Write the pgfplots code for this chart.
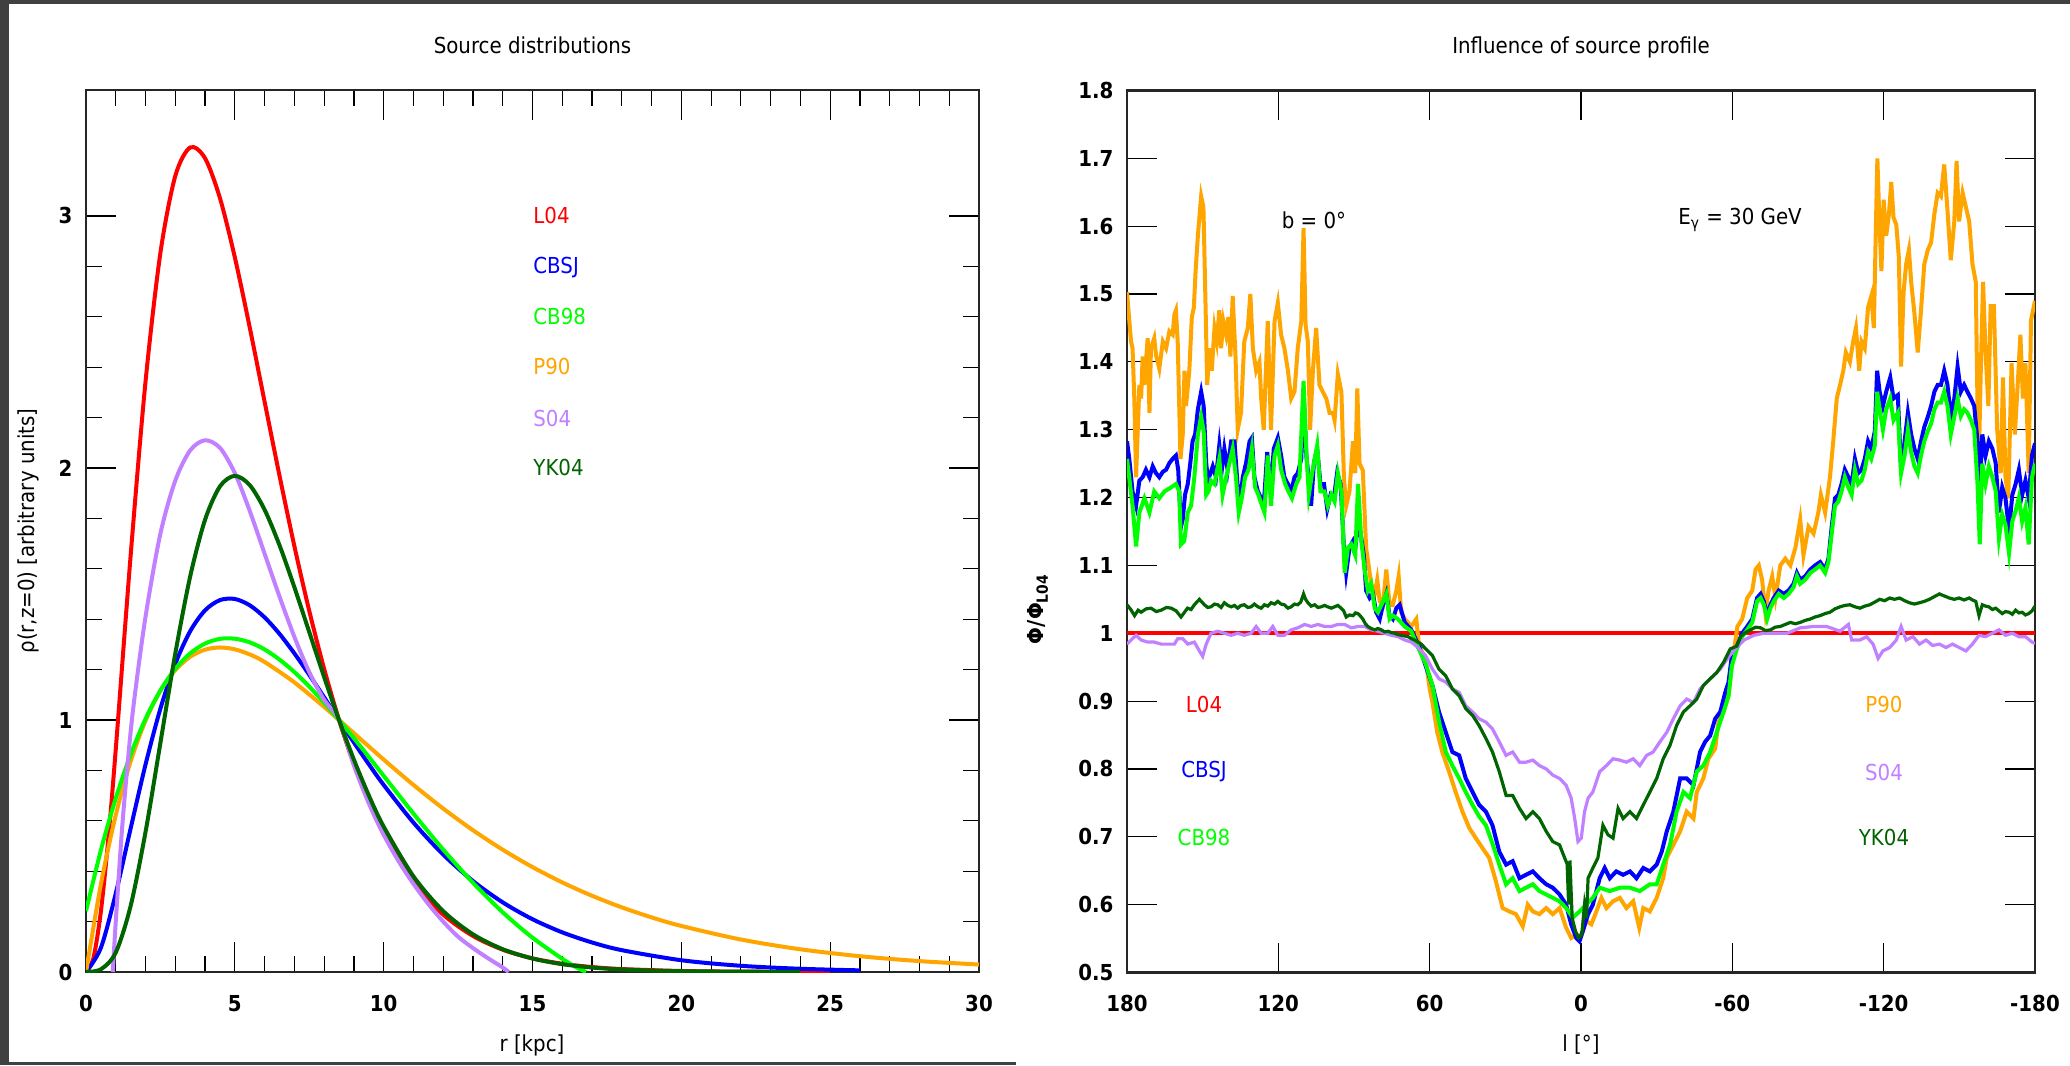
\documentclass[border=0pt]{standalone}
\usepackage{pgfplots}
\pgfplotsset{compat=1.18}
\usepackage{fontspec}
\setmainfont{DejaVu Sans}[FakeStretch=0.9]

\definecolor{cL}{RGB}{255,0,0}
\definecolor{cCBSJ}{RGB}{0,0,255}
\definecolor{cCB}{RGB}{0,255,0}
\definecolor{cP}{RGB}{255,165,0}
\definecolor{cS}{RGB}{192,128,255}
\definecolor{cYK}{RGB}{0,100,0}
\definecolor{frame}{RGB}{64,64,64}

\pgfplotsset{
  panel/.style={
    anchor=south west, scale only axis,
    axis line style={line width=1.1pt, black!85},
    tick style={black, line width=0.6pt},
    major tick length=15pt, minor tick length=8pt,
    xtick pos=both, ytick pos=both,
    tick label style={font=\fontsize{11}{13}\selectfont\bfseries},
    xticklabel style={yshift=-8pt},
    yticklabel style={xshift=-3.3pt},
    clip=true,
  },
}

\begin{document}
\begin{tikzpicture}[font=\fontsize{11}{13}\selectfont]
% window frame
\fill[frame] (0,0) rectangle (1035pt,532.5pt);
\fill[white] (4.5pt,0pt) rectangle (1035pt,530.5pt);
\fill[frame] (0,0) rectangle (508pt,1.5pt);
\useasboundingbox (0,0) rectangle (1035pt,532.5pt);

% ---------------- source distributions ----------------
\begin{axis}[panel, at={(43pt,46.5pt)}, width=446.5pt, height=441pt,
  xmin=0, xmax=30, ymin=0, ymax=3.5,
  xtick={0,5,10,15,20,25,30}, xticklabels={0,5,10,15,20,25,30},
  ytick={0,1,2,3}, yticklabels={0,1,2,3},
  minor x tick num=4, minor y tick num=4]
% L04
\addplot[cL, line width=2pt, smooth] coordinates {
(0,0) (0.25,0.0556) (0.5,0.2405) (0.75,0.5295) (1,0.884) (1.5,1.653) (2,2.343) (2.5,2.854)
(3,3.159) (3.5,3.272) (4,3.229) (4.5,3.071) (5,2.836) (5.5,2.558) (6,2.263) (6.5,1.970)
(7,1.690) (7.5,1.433) (8,1.203) (8.5,1.0) (9,0.8247) (9.5,0.6752) (10,0.5492) (11,0.3572)
(12,0.2278) (13,0.1430) (14,0.0885) (15,0.0541) (16,0.0327) (17,0.0196) (18,0.0117)
(20,0.0040) (22,0.0014) (25,0.0003)};
% CBSJ
\addplot[cCBSJ, line width=2pt, smooth] coordinates {
(0,0) (0.5,0.0959) (1,0.3118) (1.5,0.5700) (2,0.8233) (2.5,1.0452) (3,1.2229) (3.5,1.3524)
(4,1.4352) (4.5,1.4758) (5,1.4803) (5.5,1.4553) (6,1.4072) (6.5,1.3419) (7,1.2644)
(7.5,1.1793) (8,1.0902) (8.5,1.0) (9,0.9109) (9.5,0.8246) (10,0.7424) (11,0.5930)
(12,0.4659) (13,0.3609) (14,0.2763) (15,0.2094) (16,0.1573) (17,0.1172) (18,0.0867)
(20,0.0467) (22,0.0246) (24,0.0128) (26,0.0065)};
% P90
\addplot[cP, line width=2pt, smooth] coordinates {
(0,0) (0.5,0.3480) (1,0.6229) (1.5,0.8361) (2,0.9975) (2.5,1.1158) (3,1.1981) (3.5,1.2508)
(4,1.2792) (4.5,1.2878) (5,1.2804) (5.5,1.2603) (6,1.2303) (7,1.1493) (8,1.0518) (8.5,1.0)
(9,0.9475) (10,0.8430) (11,0.7425) (12,0.6486) (13,0.5626) (14,0.4852) (15,0.4163)
(16,0.3555) (17,0.3025) (18,0.2565) (19,0.2168) (20,0.1827) (22,0.1289) (24,0.0901)
(26,0.0626) (28,0.0432) (30,0.0297)};
% CB98
\addplot[cCB, line width=2pt, smooth] coordinates {
(0,0.2417) (0.5,0.4833) (1,0.6897) (1.5,0.8628) (2,1.0047) (2.5,1.1175) (3,1.2033)
(3.5,1.2646) (4,1.3033) (4.5,1.3220) (5,1.3226) (5.5,1.3082) (6,1.2800) (6.5,1.2398)
(7,1.1903) (7.5,1.1327) (8,1.0687) (8.5,1.0) (9,0.9278) (9.5,0.8537) (10,0.7784)
(11,0.6288) (12,0.4858) (13,0.3541) (14,0.2369) (15,0.1361) (16,0.0524) (16.5,0.0169)
(16.8,0)};
% S04
\addplot[cS, line width=2pt, smooth] coordinates {
(0.9,0) (1.0,0.20) (1.2,0.55) (1.4,0.83) (1.6,1.06) (2.0,1.41) (2.5,1.74) (3.0,1.95)
(3.5,2.07) (4.0,2.11) (4.5,2.08) (5.0,1.98) (5.5,1.83) (6.0,1.66) (6.5,1.49) (7,1.33)
(7.5,1.19) (8,1.08) (8.5,1.0) (9,0.82) (9.5,0.67) (10,0.545) (10.5,0.44) (11,0.35)
(11.5,0.27) (12,0.20) (12.5,0.14) (13,0.095) (13.5,0.055) (14,0.018) (14.2,0)};
% YK04
\addplot[cYK, line width=2pt, smooth] coordinates {
(0,0) (0.5,0.0107) (1,0.0773) (1.5,0.2623) (2,0.5556) (2.5,0.9093) (3,1.2639) (3.5,1.5696)
(4,1.7948) (4.5,1.9271) (5,1.9689) (5.5,1.9323) (6,1.8345) (6.5,1.6937) (7,1.5271)
(7.5,1.3490) (8,1.1706) (8.5,1.0) (9,0.8425) (9.5,0.7011) (10,0.5770) (11,0.3796)
(12,0.2416) (13,0.1495) (14,0.0904) (15,0.0535) (16,0.0311) (17,0.0178) (18,0.0101)
(20,0.0031) (24,0.0003)};
\end{axis}

% ---------------- influence of source profile ----------------
\begin{axis}[panel, at={(563.5pt,46.25pt)}, width=454pt, height=441pt,
  xmin=-180, xmax=180, x dir=reverse, ymin=0.5, ymax=1.8,
  xtick={-180,-120,-60,0,60,120,180}, xticklabels={-180,-120,-60,0,60,120,180},
  ytick={0.5,0.6,0.7,0.8,0.9,1,1.1,1.2,1.3,1.4,1.5,1.6,1.7,1.8},
  yticklabels={0.5,0.6,0.7,0.8,0.9,1,1.1,1.2,1.3,1.4,1.5,1.6,1.7,1.8}]
% L04 (reference)
\addplot[cL, line width=2pt] coordinates {(-180,1) (180,1)};
% P90
\addplot[cP, line width=2pt] coordinates {
(180,1.503) (179.1,1.461) (178.4,1.43) (177.8,1.42) (177.1,1.346) (176.4,1.23) (175.8,1.293)
(175.1,1.366) (174.4,1.346) (173.8,1.408) (173.1,1.366) (172.5,1.40) (171.8,1.435) (171.1,1.325)
(170.5,1.42) (169.2,1.435) (168.5,1.41) (167.2,1.39) (165.8,1.43) (164.5,1.42) (163.2,1.445)
(161.9,1.44) (161.2,1.47) (160.6,1.476) (159.9,1.43) (158.8,1.257) (157.9,1.293) (157.2,1.387)
(156.6,1.335) (155.3,1.387) (154.3,1.466) (153.5,1.48) (152.8,1.534) (151.9,1.586) (150.6,1.644)
(149.7,1.628) (148.9,1.49) (148.2,1.366) (147.3,1.42) (146.4,1.387) (145.3,1.45) (144.4,1.43)
(143.4,1.476) (142.7,1.42) (141.8,1.46) (140.7,1.44) (139.8,1.466) (139.0,1.408) (138.1,1.497)
(137.0,1.41) (136.1,1.30) (134.8,1.325) (133.5,1.43) (132.1,1.45) (131.1,1.50) (130.1,1.42)
(128.8,1.387) (127.5,1.40) (126.8,1.346) (125.8,1.30) (124.2,1.46) (122.9,1.30) (121.5,1.46)
(120.2,1.487) (118.9,1.44) (117.6,1.42) (116.2,1.387) (114.9,1.346) (113.6,1.356) (112.3,1.42)
(110.9,1.46) (110.0,1.597) (109.2,1.455) (108.3,1.43) (107.4,1.30) (106.3,1.387) (105.0,1.45)
(103.7,1.366) (102.4,1.356) (101.0,1.346) (99.7,1.325) (98.4,1.325) (97.7,1.314) (96.4,1.382)
(95.0,1.356) (94.0,1.23) (93.1,1.188) (91.8,1.209) (90.4,1.283) (89.5,1.236) (88.7,1.361)
(87.8,1.25) (86.5,1.24) (85.2,1.126) (84.2,1.10) (83.2,1.073) (81.8,1.058) (80.8,1.079)
(79.8,1.047) (78.5,1.042) (77.2,1.094) (75.9,1.042) (74.6,1.042) (73.2,1.063) (72.3,1.084)
(71.3,1.031) (69.9,1.021) (68.6,1.016) (67.3,1.01) (65.3,1.021) (64.2,0.981) (61.6,0.962)
(60,0.918) (58.9,0.898) (57,0.854) (55,0.825) (52.3,0.796) (49.7,0.766) (47,0.737) (44.3,0.713)
(41.7,0.698) (39,0.683) (36.4,0.669) (33.7,0.634) (31.1,0.595) (28.4,0.59) (25.8,0.586)
(23.1,0.568) (21.1,0.60) (19.1,0.59) (16.5,0.586) (13.8,0.595) (11.2,0.586) (8.5,0.595)
(5.9,0.566) (3.9,0.551) (1.9,0.556) (-0.1,0.554) (-2.1,0.576) (-4.1,0.571) (-6.1,0.59)
(-8.1,0.61) (-10.1,0.595) (-12.7,0.605) (-15.4,0.61) (-18,0.595) (-20.7,0.605) (-23.1,0.566)
(-24.7,0.595) (-27.3,0.59) (-30,0.61) (-32.6,0.639) (-34,0.669) (-36.6,0.688) (-39.3,0.708)
(-41.9,0.737) (-44.6,0.727) (-45.9,0.766) (-48.5,0.786) (-50.5,0.815) (-53.2,0.83) (-54.5,0.869)
(-56.5,0.884) (-58.5,0.908) (-59.8,0.952) (-61.1,0.986) (-62,1.01) (-63.9,1.021) (-65.9,1.052)
(-67.9,1.063) (-69.2,1.094) (-70.5,1.10) (-71.8,1.079) (-73.1,1.031) (-74.4,1.063) (-75.8,1.084)
(-77.1,1.052) (-79,1.10) (-81,1.11) (-83,1.10) (-85,1.126) (-86.9,1.168) (-88.2,1.115)
(-90.2,1.157) (-92.2,1.147) (-94.1,1.178) (-95.1,1.204) (-96.8,1.178) (-98.7,1.23) (-100,1.283)
(-101.4,1.346) (-102.7,1.366) (-104,1.387) (-105,1.414) (-106.6,1.40) (-107.9,1.43) (-109,1.45)
(-110.3,1.387) (-111.2,1.43) (-112.5,1.42) (-113.8,1.48) (-115.1,1.497) (-116.1,1.45)
(-116.9,1.597) (-117.5,1.70) (-118.4,1.597) (-119.1,1.534) (-120,1.639) (-121,1.586)
(-122.1,1.618) (-123,1.665) (-123.9,1.613) (-125,1.602) (-126,1.555) (-126.9,1.393)
(-127.9,1.503) (-128.9,1.544) (-130,1.565) (-130.9,1.518) (-132.2,1.471) (-133.5,1.414)
(-134.8,1.476) (-136.1,1.544) (-137.5,1.565) (-138.8,1.576) (-140.1,1.618) (-141.4,1.649)
(-142.7,1.644) (-144,1.691) (-145.3,1.623) (-146.6,1.55) (-148,1.607) (-148.9,1.696)
(-149.9,1.607) (-151.3,1.649) (-152.6,1.628) (-153.9,1.607) (-155.2,1.544) (-156.5,1.518)
(-157.6,1.23) (-158.5,1.387) (-159.4,1.518) (-160.4,1.414) (-161.5,1.335) (-162.4,1.482)
(-163.7,1.482) (-165,1.30) (-166.4,1.236) (-167.3,1.377) (-168.3,1.23) (-169.4,1.199)
(-170.7,1.398) (-172,1.293) (-173.3,1.377) (-174.2,1.44) (-175.2,1.346) (-176.2,1.398)
(-177.5,1.236) (-178.4,1.461) (-180,1.49)};
% CBSJ
\addplot[cCBSJ, line width=2pt] coordinates {
(180,1.283) (179.1,1.257) (177.8,1.209) (176.4,1.188) (175.1,1.225) (173.8,1.23) (172.5,1.241)
(171.1,1.23) (169.8,1.246) (168.5,1.236) (167.2,1.23) (165.8,1.238) (164.5,1.241) (163.2,1.251)
(161.9,1.257) (160.6,1.262) (159.7,1.241) (158.6,1.157) (157.9,1.168) (157,1.204) (155.9,1.22)
(154.9,1.251) (154,1.283) (153,1.293) (151.9,1.33) (150.6,1.356) (149.6,1.335) (148.6,1.251)
(147.9,1.225) (146.9,1.236) (146,1.246) (144.7,1.23) (143.4,1.277) (142.4,1.241) (141.4,1.272)
(140.1,1.241) (138.7,1.283) (137.4,1.283) (136.1,1.215) (135,1.199) (134.1,1.23) (132.8,1.251)
(131.4,1.283) (130.5,1.288) (129.5,1.23) (128.1,1.209) (126.8,1.199) (125.8,1.188) (124.4,1.267)
(123.1,1.209) (121.8,1.272) (120.2,1.288) (118.9,1.262) (117.6,1.23) (116.2,1.22) (114.9,1.209)
(113.6,1.23) (112.3,1.236) (110.9,1.257) (110,1.356) (108.9,1.262) (108,1.23) (107,1.188)
(105.9,1.251) (104.6,1.272) (103.3,1.22) (101.9,1.22) (100.6,1.183) (99.3,1.204) (98,1.199)
(96.7,1.236) (95.3,1.22) (94,1.126) (93.1,1.089) (91.8,1.126) (90.4,1.136) (89.5,1.126)
(88.4,1.162) (87.4,1.147) (86.1,1.115) (85.2,1.063) (83.8,1.052) (82.5,1.058) (81.2,1.031)
(79.8,1.021) (78.5,1.042) (77.2,1.058) (75.9,1.026) (74.6,1.021) (73.2,1.037) (71.9,1.042)
(69.9,1.016) (67.3,1.005) (64.2,0.981) (61.6,0.952) (58.9,0.923) (56.3,0.884) (53.6,0.854)
(51,0.825) (48.3,0.82) (45.7,0.786) (43,0.766) (40.4,0.747) (37.7,0.737) (35.1,0.717)
(32.4,0.678) (29.7,0.659) (27.1,0.664) (24.4,0.639) (21.8,0.644) (19.1,0.649) (16.5,0.639)
(13.8,0.63) (11.2,0.625) (8.5,0.615) (5.9,0.60) (3.9,0.571) (1.9,0.551) (0.6,0.546)
(-0.7,0.561) (-2.8,0.586) (-4.7,0.60) (-7.4,0.639) (-9.4,0.654) (-11.4,0.639) (-14,0.649)
(-16.7,0.644) (-19.4,0.649) (-22,0.639) (-24.7,0.654) (-27.3,0.649) (-30,0.659) (-32,0.678)
(-34,0.708) (-36.6,0.737) (-39.3,0.786) (-41.9,0.786) (-44.6,0.776) (-47.2,0.825) (-49.2,0.84)
(-51.2,0.849) (-53.2,0.874) (-55.2,0.884) (-57.2,0.913) (-58.5,0.928) (-59.8,0.967)
(-61.8,0.981) (-63.9,1.0) (-65.9,1.01) (-67.9,1.021) (-69.8,1.052) (-71.2,1.058) (-72.5,1.047)
(-73.8,1.026) (-75.1,1.042) (-76.4,1.052) (-78.4,1.063) (-80.4,1.058) (-82.3,1.063)
(-84.3,1.073) (-85.6,1.089) (-86.9,1.079) (-88.9,1.084) (-90.9,1.094) (-92.8,1.10)
(-94.8,1.105) (-96.8,1.094) (-98.1,1.11) (-99.4,1.157) (-100.7,1.199) (-102,1.204)
(-103.3,1.22) (-104.6,1.241) (-106,1.23) (-107.3,1.22) (-108.6,1.257) (-109.9,1.236)
(-111.2,1.241) (-112.5,1.257) (-113.8,1.283) (-115.1,1.272) (-116.5,1.298) (-117.4,1.387)
(-118.4,1.356) (-119.7,1.335) (-121,1.356) (-122.6,1.377) (-123.9,1.346) (-125.6,1.351)
(-126.9,1.241) (-128.3,1.283) (-129.6,1.325) (-130.9,1.293) (-132.2,1.272) (-133.5,1.257)
(-134.8,1.283) (-136.1,1.304) (-137.5,1.319) (-138.8,1.335) (-140.1,1.356) (-141.4,1.366)
(-142.7,1.366) (-144,1.387) (-145.3,1.366) (-146.6,1.319) (-148,1.346) (-149.3,1.393)
(-150.6,1.356) (-151.9,1.366) (-153.2,1.356) (-154.6,1.346) (-155.9,1.335) (-157.2,1.283)
(-158.1,1.209) (-159.1,1.293) (-160.4,1.262) (-161.7,1.283) (-163.1,1.272) (-164.4,1.251)
(-165.7,1.178) (-167,1.215) (-168.3,1.199) (-169.7,1.152) (-171,1.204) (-172.3,1.22)
(-173.6,1.241) (-174.9,1.204) (-176.2,1.225) (-177.5,1.199) (-178.8,1.262) (-180,1.28)};
% CB98
\addplot[cCB, line width=2pt] coordinates {
(180,1.257) (177.8,1.188) (176.4,1.128) (175.1,1.178) (173.1,1.199) (171.1,1.178) (169.2,1.209)
(167.2,1.199) (165.2,1.209) (162.5,1.215) (160.6,1.22) (159.3,1.209) (158.6,1.131) (157.3,1.136)
(155.9,1.178) (154.6,1.188) (153.3,1.23) (151.9,1.293) (150.6,1.319) (149.6,1.298) (148.6,1.204)
(147.7,1.209) (146.7,1.225) (145.3,1.22) (143.4,1.257) (142.1,1.204) (140.7,1.23) (139.4,1.251)
(138.1,1.272) (136.8,1.23) (135.7,1.178) (134.5,1.199) (133.2,1.23) (131.8,1.241) (130.5,1.272)
(129.2,1.215) (127.9,1.204) (126.5,1.188) (125.5,1.178) (124.2,1.262) (122.9,1.188) (121.5,1.262)
(120.2,1.277) (118.9,1.241) (117.3,1.22) (116,1.209) (114.6,1.199) (112.9,1.22) (111.6,1.23)
(110,1.372) (108.9,1.267) (107.9,1.204) (106.6,1.236) (104.6,1.277) (103.3,1.209) (101.7,1.209)
(100.4,1.188) (99,1.204) (97.7,1.194) (96.4,1.236) (95,1.209) (93.7,1.089) (92.4,1.126)
(91.1,1.131) (89.5,1.115) (88.4,1.22) (87.1,1.136) (85.8,1.094) (84.5,1.063) (83.2,1.073)
(81.8,1.037) (80.5,1.031) (78.5,1.047) (77.2,1.058) (75.9,1.021) (74.6,1.026) (72.6,1.021)
(69.9,1.01) (67.3,1.003) (64.6,0.979) (61.6,0.955) (58.9,0.923) (56.3,0.87) (53.6,0.825)
(51,0.805) (48.3,0.786) (45.7,0.766) (43,0.747) (40.4,0.73) (37.7,0.717) (35.1,0.69)
(32.4,0.659) (29.7,0.63) (27.1,0.639) (24.4,0.62) (21.8,0.625) (19.1,0.63) (16.5,0.62)
(13.8,0.615) (11.2,0.61) (8.5,0.605) (5.9,0.595) (3.2,0.581) (0.6,0.59) (-2.1,0.60)
(-4.7,0.61) (-7.4,0.625) (-11.4,0.62) (-15.4,0.625) (-19.4,0.625) (-23.3,0.62) (-27.3,0.63)
(-30,0.63) (-32.6,0.659) (-35.3,0.688) (-37.9,0.737) (-40.6,0.766) (-43.2,0.757) (-45.9,0.796)
(-48.5,0.805) (-51.2,0.825) (-53.8,0.854) (-56.5,0.884) (-58.5,0.908) (-59.8,0.952)
(-61.8,0.977) (-63.9,0.995) (-65.9,1.005) (-67.9,1.016) (-69.8,1.047) (-71.2,1.052)
(-72.5,1.042) (-73.8,1.021) (-75.1,1.037) (-76.4,1.047) (-78.4,1.058) (-80.4,1.052)
(-82.3,1.058) (-84.3,1.068) (-85.6,1.084) (-86.9,1.073) (-88.9,1.079) (-90.9,1.089)
(-92.8,1.094) (-94.8,1.10) (-96.8,1.089) (-98.1,1.105) (-99.4,1.147) (-100.7,1.188)
(-102,1.194) (-103.3,1.209) (-104.6,1.23) (-106,1.215) (-107.3,1.204) (-108.6,1.241)
(-109.9,1.22) (-111.2,1.225) (-112.5,1.241) (-113.8,1.267) (-115.1,1.257) (-116.5,1.277)
(-117.4,1.356) (-118.4,1.33) (-119.7,1.30) (-121,1.33) (-122.6,1.346) (-123.9,1.314)
(-125.6,1.325) (-126.9,1.236) (-128.3,1.262) (-129.6,1.30) (-130.9,1.267) (-132.2,1.246)
(-133.5,1.236) (-134.8,1.262) (-136.1,1.283) (-137.5,1.298) (-138.8,1.309) (-140.1,1.33)
(-141.4,1.34) (-142.7,1.34) (-144,1.356) (-145.3,1.335) (-146.6,1.293) (-148,1.319)
(-149.3,1.346) (-150.6,1.32) (-151.9,1.33) (-153.2,1.325) (-154.6,1.314) (-155.9,1.30)
(-157.2,1.22) (-158.1,1.131) (-159.1,1.25) (-160.4,1.22) (-161.7,1.246) (-163.1,1.23)
(-164.4,1.21) (-165.7,1.14) (-167,1.175) (-168.3,1.16) (-169.7,1.118) (-171,1.165)
(-172.3,1.18) (-173.6,1.20) (-174.9,1.165) (-176.2,1.185) (-177.5,1.131) (-178.8,1.23)
(-180,1.25)};
% S04
\addplot[cS, line width=1.6pt] coordinates {
(180,0.984) (178.4,0.99) (176.4,0.997) (174.4,0.99) (171.8,0.987) (169.2,0.987) (166.5,0.984)
(163.8,0.984) (161.2,0.984) (159.9,0.992) (157.9,0.992) (155.9,0.984) (153.3,0.987) (151.3,0.974)
(150,0.966) (148.6,0.984) (146.7,1.0) (144,1.003) (141.4,1.0) (138.7,0.997) (136.1,1.0)
(133.5,0.997) (130.8,1.0) (128.8,1.01) (126.8,1.0) (124.2,1.0) (122.2,1.01) (120.2,0.997)
(117.6,0.997) (114.9,1.005) (112.3,1.008) (109.6,1.013) (107,1.01) (104.3,1.013) (101.7,1.01)
(99,1.01) (96.4,1.013) (93.7,1.013) (91.1,1.008) (88.4,1.01) (85.8,1.01) (83.2,1.005)
(80.5,1.003) (77.8,1.0) (75.2,0.997) (72.6,0.995) (69.9,0.99) (67.3,0.987) (64.6,0.979)
(61.6,0.967) (58.9,0.947) (56.3,0.933) (53.6,0.928) (51,0.918) (48.3,0.913) (45.7,0.893)
(43,0.884) (40.4,0.874) (37.7,0.869) (35.1,0.859) (32.4,0.84) (29.7,0.82) (27.1,0.825)
(24.4,0.81) (21.8,0.81) (19.1,0.813) (16.5,0.805) (13.8,0.80) (11.2,0.791) (8.5,0.786)
(5.9,0.776) (3.9,0.757) (2.5,0.727) (1.2,0.693) (-0.1,0.698) (-1.4,0.737) (-2.8,0.757)
(-4.7,0.766) (-7.4,0.796) (-10.1,0.805) (-12.7,0.815) (-15.4,0.813) (-18,0.81) (-20.7,0.815)
(-23.3,0.805) (-26,0.82) (-28.6,0.825) (-31.3,0.84) (-34,0.854) (-36.6,0.874) (-39.3,0.893)
(-41.9,0.903) (-44.6,0.898) (-47.2,0.918) (-49.9,0.928) (-52.5,0.937) (-55.2,0.947)
(-57.9,0.962) (-60.5,0.974) (-64.6,0.99) (-68.5,0.997) (-72.5,1.0) (-76.4,1.0) (-81.7,1.0)
(-86.9,1.008) (-92.2,1.01) (-97.4,1.01) (-102.7,1.003) (-106,1.013) (-107.3,0.99)
(-110.6,0.99) (-113.2,0.995) (-115.8,0.984) (-117.8,0.963) (-119.7,0.974) (-122.4,0.979)
(-125,0.99) (-126.9,1.01) (-128.9,0.99) (-131.6,0.995) (-134.2,0.984) (-136.8,0.99)
(-139.4,0.982) (-142.1,0.984) (-144.7,0.979) (-147.3,0.984) (-149.9,0.979) (-152.6,0.974)
(-155.2,0.984) (-157.8,0.997) (-160.4,0.995) (-163.1,1.0) (-165.7,1.005) (-168.3,0.997)
(-171,1.0) (-173.6,0.995) (-176.2,0.995) (-178.8,0.987) (-180,0.985)};
% YK04
\addplot[cYK, line width=1.6pt] coordinates {
(180,1.042) (178.5,1.035) (177,1.026) (175.6,1.034) (174.4,1.031) (172.4,1.036) (170.5,1.037)
(168.4,1.032) (166.5,1.034) (164.4,1.038) (162.5,1.037) (160.5,1.033) (158.6,1.024)
(157.2,1.031) (156,1.037) (154.6,1.035) (153.3,1.042) (151.3,1.05) (149.3,1.042) (148,1.038)
(146.7,1.039) (145.3,1.043) (144,1.042) (142.7,1.038) (141.4,1.045) (140,1.041) (138.7,1.039)
(137.4,1.041) (136.1,1.037) (134.8,1.041) (133.5,1.042) (132.1,1.038) (130.8,1.039)
(129.5,1.043) (128.1,1.039) (126.8,1.037) (125.5,1.042) (124.2,1.04) (122.9,1.045)
(121.5,1.043) (120.2,1.047) (118.9,1.043) (117.6,1.042) (116.2,1.037) (114.9,1.039)
(113.6,1.043) (112.3,1.042) (111.1,1.046) (110,1.058) (109.2,1.05) (108.3,1.045) (107,1.04)
(105.6,1.042) (104.3,1.038) (103,1.039) (101.7,1.041) (100.4,1.039) (99,1.037) (97.7,1.039)
(96.4,1.041) (95.1,1.037) (94.1,1.033) (93.1,1.024) (91.8,1.027) (90.4,1.026) (89.4,1.03)
(88.4,1.029) (87.4,1.025) (86.5,1.021) (85.5,1.014) (84.5,1.01) (83.2,1.007) (81.8,1.005)
(80.5,1.007) (79.2,1.005) (77.8,1.002) (76.5,1.003) (75.2,1.001) (73.9,1.0) (72.6,0.998)
(71.3,0.997) (69.9,0.996) (68.6,0.995) (67.3,0.992) (66,0.99) (63.3,0.984) (61.6,0.977)
(58.9,0.967) (56.3,0.947) (53.6,0.937) (51,0.918) (48.3,0.908) (45.7,0.889) (43,0.879)
(40.4,0.864) (37.7,0.845) (35.1,0.825) (32.4,0.796) (29.7,0.761) (27.1,0.761) (24.4,0.742)
(21.8,0.727) (19.1,0.737) (16.5,0.727) (13.8,0.708) (11.2,0.693) (8.5,0.688) (6.5,0.669)
(5.5,0.66) (4.9,0.60) (4.4,0.665) (3.5,0.58) (2.2,0.561) (1.0,0.551) (-0.3,0.556)
(-1.4,0.60) (-2.2,0.58) (-2.8,0.639) (-4.7,0.654) (-6.7,0.669) (-8.7,0.717) (-10.7,0.703)
(-12.7,0.698) (-14.7,0.742) (-16.7,0.727) (-19.4,0.737) (-22,0.727) (-24.7,0.747) (-27.3,0.766)
(-30,0.786) (-32.6,0.815) (-35.3,0.835) (-37.9,0.864) (-40.6,0.884) (-43.2,0.893) (-45.9,0.903)
(-48.5,0.923) (-51.2,0.933) (-53.8,0.942) (-56.5,0.957) (-59.2,0.977) (-61.8,0.981)
(-63.3,0.995) (-65.2,1.001) (-67.2,1.005) (-69.2,1.009) (-71.2,1.008) (-73.1,1.004)
(-75.1,1.005) (-77,1.009) (-79,1.01) (-81,1.013) (-83,1.016) (-85,1.014) (-86.9,1.016)
(-88.9,1.019) (-90.9,1.021) (-92.8,1.024) (-94.8,1.026) (-96.8,1.029) (-98.7,1.031)
(-100.7,1.036) (-102.7,1.039) (-104.6,1.041) (-106.6,1.042) (-108.6,1.039) (-110.6,1.037)
(-112.5,1.04) (-114.5,1.042) (-116.5,1.046) (-118.4,1.05) (-120.4,1.048) (-122.4,1.052)
(-124.3,1.05) (-126.3,1.052) (-128.3,1.048) (-130.2,1.045) (-132.2,1.043) (-134.2,1.045)
(-136.1,1.047) (-138.1,1.05) (-140.1,1.054) (-142.1,1.058) (-144,1.055) (-146,1.052)
(-148,1.05) (-149.9,1.052) (-151.9,1.049) (-153.9,1.052) (-155.2,1.049) (-156.5,1.047)
(-157.8,1.026) (-159.1,1.042) (-160.4,1.04) (-161.7,1.039) (-163.1,1.035) (-164.4,1.037)
(-165.7,1.033) (-167,1.029) (-168.3,1.032) (-169.7,1.031) (-171,1.028) (-172.3,1.034)
(-173.6,1.03) (-174.9,1.031) (-176.2,1.027) (-177.5,1.029) (-178.8,1.033) (-180,1.04)};
\end{axis}

% ---------------- texts ----------------
\node[anchor=center, inner sep=0] at (266.25pt,510pt) {Source distributions};
\node[anchor=center, inner sep=0] at (790.5pt,509pt) {Influence of source profile};
\node[anchor=center, inner sep=0] at (266pt,10pt) {r [kpc]};
\node[anchor=center, inner sep=0] at (790.5pt,10pt) {l [°]};
\node[anchor=center, inner sep=0, rotate=90] at (14pt,267pt) {ρ(r,z=0) [arbitrary units]};
\node[anchor=center, inner sep=0, rotate=90] at (519pt,228pt) {\bfseries Φ/Φ\textsubscript{L04}};

\node[anchor=west, inner sep=0, text=cL] at (266.5pt,424.5pt) {L04};
\node[anchor=west, inner sep=0, text=cCBSJ] at (266.5pt,398.5pt) {CBSJ};
\node[anchor=west, inner sep=0, text=cCB] at (266.5pt,374pt) {CB98};
\node[anchor=west, inner sep=0, text=cP] at (266.5pt,349.5pt) {P90};
\node[anchor=west, inner sep=0, text=cS] at (266.5pt,323.5pt) {S04};
\node[anchor=west, inner sep=0, text=cYK] at (266.5pt,299pt) {YK04};

\node[anchor=center, inner sep=0, text=cL] at (602pt,180.5pt) {L04};
\node[anchor=center, inner sep=0, text=cCBSJ] at (602pt,146.5pt) {CBSJ};
\node[anchor=center, inner sep=0, text=cCB] at (602pt,114pt) {CB98};
\node[anchor=center, inner sep=0, text=cP] at (942pt,180.5pt) {P90};
\node[anchor=center, inner sep=0, text=cS] at (942pt,146.5pt) {S04};
\node[anchor=center, inner sep=0, text=cYK] at (942pt,114pt) {YK04};

\node[anchor=center, inner sep=0] at (657pt,422.5pt) {b = 0°};
\node[anchor=center, inner sep=0] at (870pt,422.5pt) {E\textsubscript{γ} = 30 GeV};
\end{tikzpicture}
\end{document}
